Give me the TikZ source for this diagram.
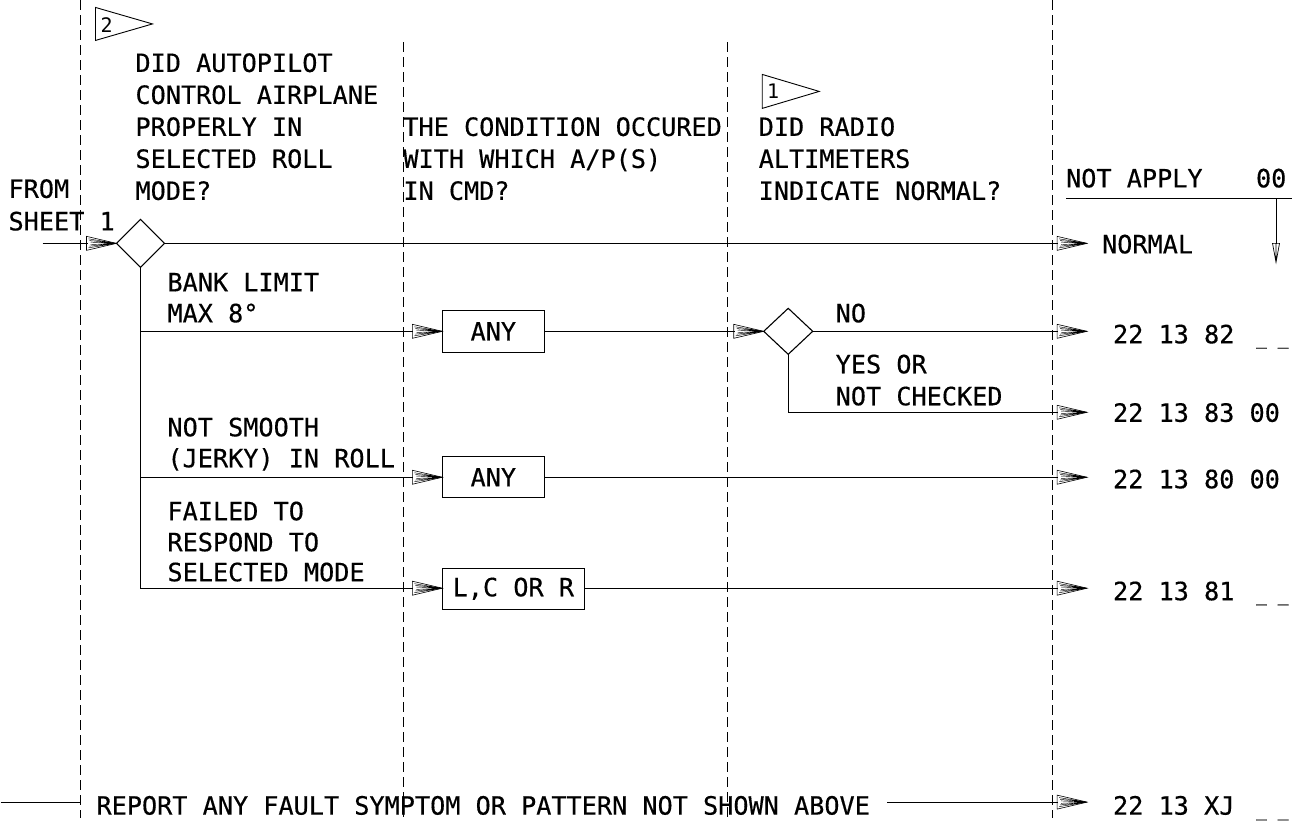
\documentclass[tikz,border=0pt]{standalone}
\usepackage{fontspec}
\usetikzlibrary{shapes.geometric,arrows.meta}
\newfontfamily\cadfam{DejaVu Sans Mono}[FakeBold=0.4]
\newfontfamily\cadflagfam{DejaVu Sans Mono}
\newcommand\cadfont{\cadfam\fontsize{25.2}{32}\selectfont}
\newcommand\cadflag{\cadflagfam\fontsize{20}{20}\selectfont}
\newcommand\cadunder{\cadfam\fontsize{18}{22}\selectfont}

\pgfdeclarearrow{
  name = Fan,
  setup code = {
    \pgfarrowssettipend{0pt}
    \pgfarrowssetlineend{-29pt}
    \pgfarrowssetvisualbackend{-30pt}
    \pgfarrowssetbackend{-30pt}
    \pgfarrowsupperhullpoint{-30pt}{7pt}
    \pgfarrowsupperhullpoint{0pt}{0pt}
  },
  drawing code = {
    \pgfsetdash{}{0pt}
    \pgfsetlinewidth{0.6pt}
    \pgfsetmiterjoin
    \pgfpathmoveto{\pgfqpoint{0pt}{0pt}}
    \pgfpathlineto{\pgfqpoint{-30pt}{7pt}}
    \pgfpathlineto{\pgfqpoint{-30pt}{-7pt}}
    \pgfpathclose
    \pgfusepathqstroke
    \pgfsetlinewidth{0.45pt}
    \pgfpathmoveto{\pgfqpoint{-28pt}{4.5pt}}\pgfpathlineto{\pgfqpoint{0pt}{0pt}}
    \pgfpathmoveto{\pgfqpoint{-28pt}{-4.5pt}}\pgfpathlineto{\pgfqpoint{0pt}{0pt}}
    \pgfpathmoveto{\pgfqpoint{-27pt}{2.8pt}}\pgfpathlineto{\pgfqpoint{0pt}{0pt}}
    \pgfpathmoveto{\pgfqpoint{-27pt}{-2.8pt}}\pgfpathlineto{\pgfqpoint{0pt}{0pt}}
    \pgfpathmoveto{\pgfqpoint{-26pt}{1.2pt}}\pgfpathlineto{\pgfqpoint{0pt}{0pt}}
    \pgfpathmoveto{\pgfqpoint{-26pt}{-1.2pt}}\pgfpathlineto{\pgfqpoint{0pt}{0pt}}
    \pgfusepathqstroke
    \pgfpathmoveto{\pgfqpoint{0pt}{0pt}}
    \pgfpathlineto{\pgfqpoint{-10pt}{1.2pt}}
    \pgfpathlineto{\pgfqpoint{-10pt}{-1.2pt}}
    \pgfpathclose
    \pgfusepathqfill
  }
}

\pgfdeclarearrow{
  name = SmallOpen,
  setup code = {
    \pgfarrowssettipend{0pt}
    \pgfarrowssetlineend{-18pt}
    \pgfarrowssetvisualbackend{-19pt}
    \pgfarrowssetbackend{-19pt}
    \pgfarrowsupperhullpoint{-19pt}{3.5pt}
    \pgfarrowsupperhullpoint{0pt}{0pt}
  },
  drawing code = {
    \pgfsetdash{}{0pt}
    \pgfsetlinewidth{0.7pt}
    \pgfsetmiterjoin
    \pgfpathmoveto{\pgfqpoint{0pt}{0pt}}
    \pgfpathlineto{\pgfqpoint{-19pt}{3.5pt}}
    \pgfpathlineto{\pgfqpoint{-19pt}{-3.5pt}}
    \pgfpathclose
    \pgfpathmoveto{\pgfqpoint{-19pt}{0pt}}\pgfpathlineto{\pgfqpoint{0pt}{0pt}}
    \pgfusepathqstroke
  }
}

\begin{document}
\begin{tikzpicture}[x=1pt,y=-1pt,
  txt/.style={anchor=base west, inner sep=0pt, outer sep=0pt, font=\cadfont},
  undr/.style={anchor=base west, inner sep=0pt, outer sep=0pt, font=\cadunder},
  flagnum/.style={anchor=base west, inner sep=0pt, outer sep=0pt, font=\cadflag},
  sep/.style={line width=0.9pt, dash pattern=on 10pt off 5pt},
  conn/.style={line width=1.1pt},
  arr/.style={conn, -{Fan}},
  box/.style={draw, line width=1.1pt, rectangle, inner sep=0pt, outer sep=0pt, font=\cadfont},
  dia/.style={draw, line width=1.1pt, diamond, inner sep=0pt, outer sep=0pt, minimum width=48pt, minimum height=48pt}
]
\path[fill=white] (0,0) rectangle (1303,818);

% column separators
\draw[sep] (80,0) -- (80,818);
\draw[sep] (403,42) -- (403,818);
\draw[sep] (727,42) -- (727,818);
\draw[sep] (1052,0) -- (1052,818);

% flags
\draw[line width=0.9pt] (95,7) -- (95,40) -- (152,23.5) -- cycle;
\node[flagnum] (f2) at (100,32.5) {2};
\draw[line width=0.9pt] (762,74) -- (762,108) -- (819,91) -- cycle;
\node[flagnum] (f1) at (767,98) {1};

% headings
\node[txt] (h1a) at (135,71.5) {DID AUTOPILOT};
\node[txt] (h1b) at (135,103.5) {CONTROL AIRPLANE};
\node[txt] (h1c) at (135,135.5) {PROPERLY IN};
\node[txt] (h1d) at (135,167.5) {SELECTED ROLL};
\node[txt] (h1e) at (135,199.5) {MODE?};
\node[txt] (fr1) at (8,197.5) {FROM};
\node[txt] (fr2) at (8,230) {SHEET 1};
\node[txt] (h2a) at (403,135.5) {THE CONDITION OCCURED};
\node[txt] (h2b) at (403,167.5) {WITH WHICH A/P(S)};
\node[txt] (h2c) at (403,199.5) {IN CMD?};
\node[txt] (h3a) at (758.5,135.5) {DID RADIO};
\node[txt] (h3b) at (758.5,167.5) {ALTIMETERS};
\node[txt] (h3c) at (758.5,199.5) {INDICATE NORMAL?};
\node[txt] (na) at (1066,187) {NOT APPLY};
\node[txt] (na0) at (1256,187) {00};

% not apply marker
\coordinate (ul0) at (1066,198);
\coordinate (ul1) at (1292,198);
\coordinate (va0) at (1276,198);
\coordinate (va1) at (1276,262);
\draw[line width=1pt] (ul0) -- (ul1);
\draw[line width=1pt, -{SmallOpen}] (va0) -- (va1);

% main diamond and lines
\coordinate (start) at (42,243);
\node[dia] (d1) at (140,243) {};
\coordinate (enorm) at (1087,243);
\node[txt] (normal) at (1102,253) {NORMAL};
\draw[arr] (start) -- (d1.west);
\draw[arr] (d1.east) -- (enorm);

\coordinate (j1) at (140,331);
\coordinate (j2) at (140,477);
\coordinate (j3) at (140,588);
\draw[conn] (d1.south) -- (j3);

% branch labels
\node[txt] (l1a) at (167,291) {BANK LIMIT};
\node[txt] (l1b) at (167,322) {MAX 8°};
\node[txt] (l2a) at (167,436) {NOT SMOOTH};
\node[txt] (l2b) at (167,467) {(JERKY) IN ROLL};
\node[txt] (l3a) at (167,520) {FAILED TO};
\node[txt] (l3b) at (167,551) {RESPOND TO};
\node[txt] (l3c) at (167,581) {SELECTED MODE};

% boxes
\node[box, minimum width=102pt, minimum height=42pt] (b1) at (493,331) {ANY};
\node[box, minimum width=102pt, minimum height=41pt] (b2) at (493,477) {ANY};
\node[box, minimum width=142pt, minimum height=41pt] (b3) at (513,588.5) {L,C OR R};
\draw[arr] (j1) -- (b1.west);
\draw[arr] (j2) -- (b2.west);
\draw[arr] (j3) -- (b3.west |- j3);

% radio altimeter decision
\node[dia, minimum width=49pt, minimum height=46pt] (d2) at (788,331) {};
\draw[arr] (b1.east) -- (d2.west);
\node[txt] (no) at (835.5,322) {NO};
\node[txt] (yes1) at (835.5,373) {YES OR};
\node[txt] (yes2) at (835.5,405) {NOT CHECKED};
\coordinate (e82) at (1087,331);
\coordinate (k83) at (788,412);
\coordinate (e83) at (1087,412);
\coordinate (e80) at (1087,477);
\coordinate (e81) at (1087,588);
\draw[arr] (d2.east) -- (e82);
\draw[arr] (d2.south) -- (k83) -- (e83);
\draw[arr] (b2.east) -- (e80);
\draw[arr] (b3.east |- e81) -- (e81);

% result codes
\node[txt] (c82) at (1113,343) {22 13 82};
\node[undr] (u82) at (1256,344) {\_ \_};
\node[txt] (c83) at (1113,421.5) {22 13 83 00};
\node[txt] (c80) at (1113,488) {22 13 80 00};
\node[txt] (c81) at (1113,600) {22 13 81};
\node[undr] (u81) at (1256,601) {\_ \_};

% bottom row
\coordinate (bl0) at (0,802);
\coordinate (bl1) at (80,802);
\draw[conn] (bl0) -- (bl1);
\node[txt] (rep) at (96,814.5) {REPORT ANY FAULT SYMPTOM OR PATTERN NOT SHOWN ABOVE};
\coordinate (br0) at (887,802);
\coordinate (eXJ) at (1087,802);
\draw[arr] (br0) -- (eXJ);
\node[txt] (cxj) at (1113,814.5) {22 13 XJ};
\node[undr] (uxj) at (1256,816) {\_ \_};
\end{tikzpicture}
\end{document}
